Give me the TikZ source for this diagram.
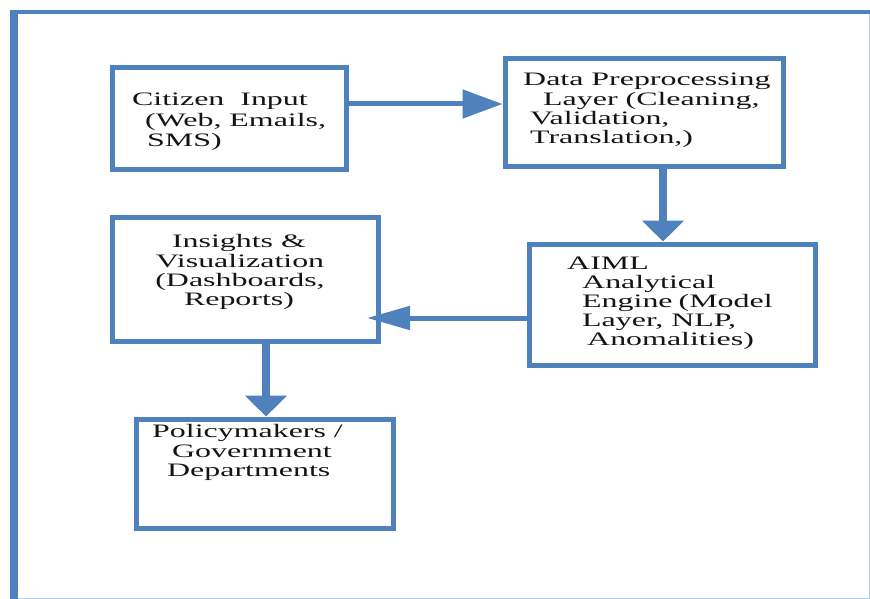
\documentclass[tikz,border=0pt]{standalone}
\usepackage{fontspec}
\setmainfont{Liberation Serif}[FakeStretch=1.68]
\usetikzlibrary{arrows.meta}
\definecolor{fblue}{RGB}{79,129,189}
\definecolor{flight}{RGB}{184,204,228}
\definecolor{ftext}{RGB}{20,20,20}
\begin{document}
\begin{tikzpicture}[x=1pt,y=-1pt,
  box/.style={draw=fblue,line width=5pt,fill=white,inner sep=0pt},
  txt/.style={anchor=west,inner sep=0pt,text=ftext,font=\fontsize{19}{20}\selectfont,text height=0.66em,text depth=0.2em},
  ctxt/.style={txt,anchor=center},
  harrow/.style={draw=fblue,line width=5pt,-{Triangle[length=40pt,width=28pt]}},
  harrowb/.style={draw=fblue,line width=5pt,-{Triangle[length=43pt,width=23pt]}},
  varrow/.style={draw=fblue,line width=8pt,-{Triangle[length=21pt,width=41pt]}}]
\useasboundingbox (0,0) rectangle (870,599);
\fill[white] (0,0) rectangle (870,599);
% frame
\draw[flight,line width=1pt] (14,598) -- (869,598) -- (869,12);
\draw[fblue,line width=4pt] (10,12) -- (870,12);
\draw[fblue,line width=8pt] (14,10) -- (14,599);
% boxes
\node[box,minimum width=234pt,minimum height=101pt] (cit) at (229,118.5) {};
\node[box,minimum width=278pt,minimum height=107pt] (dat) at (644,112.5) {};
\node[box,minimum width=286pt,minimum height=121pt] (aiml) at (672,304.5) {};
\node[box,minimum width=266pt,minimum height=124pt] (ins) at (245,279) {};
\node[box,minimum width=257pt,minimum height=109pt] (pol) at (264.5,473.5) {};
% texts
\node[txt] (c1) at (132,103) {Citizen\ \ Input};
\node[txt] (c2) at (145,124) {(Web, Emails,};
\node[txt] (c3) at (147,144) {SMS)};
\node[txt] (d1) at (523,83) {Data Preprocessing};
\node[txt] (d2) at (543,103) {Layer (Cleaning,};
\node[txt] (d3) at (530,122) {Validation,};
\node[txt] (d4) at (530,141) {Translation,)};
\node[ctxt] (i1) at (239,245) {Insights \&};
\node[ctxt] (i2) at (240,265) {Visualization};
\node[ctxt] (i3) at (240,284) {(Dashboards,};
\node[ctxt] (i4) at (239,303) {Reports)};
\node[txt] (a1) at (567,267) {AIML};
\node[txt] (a2) at (582,286) {Analytical};
\node[txt] (a3) at (582,305) {Engine\hspace{-0.1em} (Model};
\node[txt] (a4) at (582,324) {Layer, NLP,};
\node[txt] (a5) at (587,343) {Anomalities)};
\node[txt] (p1) at (152,435) {Policymakers /};
\node[txt] (p2) at (172,455) {Government};
\node[txt] (p3) at (167,474) {Departments};
% connectors
\coordinate (y103) at (0,104);
\coordinate (x663) at (663,0);
\coordinate (y318) at (0,318);
\coordinate (x266) at (266,0);
\coordinate (tipA) at (367,318);
\draw[harrow] (cit.east |- y103) -- (dat.west |- y103);
\draw[varrow] (dat.south -| x663) -- (aiml.north -| x663);
\draw[harrowb] (aiml.west |- y318) -- (tipA);
\draw[varrow] (ins.south -| x266) -- (pol.north -| x266);
\end{tikzpicture}
\end{document}
